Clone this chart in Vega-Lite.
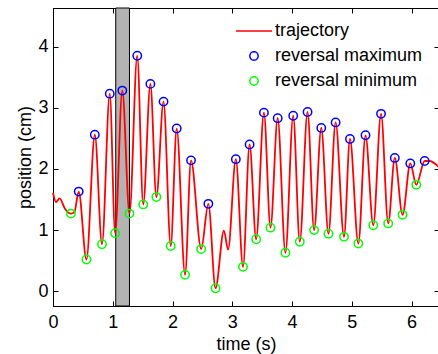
{
  "$schema": "https://vega.github.io/schema/vega-lite/v6.json",
  "width": 386,
  "height": 298,
  "autosize": {"type": "none"},
  "padding": {"left": 53, "top": 8, "right": 0, "bottom": 48},
  "background": "white",
  "config": {
    "view": {"stroke": "black", "strokeWidth": 1},
    "font": "Liberation Sans",
    "axis": {
      "grid": false,
      "domainColor": "black",
      "tickColor": "black",
      "labelColor": "black",
      "titleColor": "black",
      "labelFont": "Liberation Sans",
      "titleFont": "Liberation Sans",
      "labelFontSize": 18,
      "titleFontSize": 18,
      "titleFontWeight": "normal",
      "tickSize": -5,
      "tickWidth": 1,
      "domainWidth": 1,
      "labelFlush": false
    },
    "legend": {
      "labelFont": "Liberation Sans",
      "labelFontSize": 18,
      "labelColor": "black"
    }
  },
  "datasets": {
    "traj": [
      {"t": 0, "v": 1.61, "series": "trajectory"},
      {"t": 0.05, "v": 1.46, "series": "trajectory"},
      {"t": 0.11, "v": 1.52, "series": "trajectory"},
      {"t": 0.2, "v": 1.35, "series": "trajectory"},
      {"t": 0.3, "v": 1.27, "series": "trajectory"},
      {"t": 0.36, "v": 1.3, "series": "trajectory"},
      {"t": 0.43, "v": 1.63, "series": "trajectory"},
      {"t": 0.56, "v": 0.52, "series": "trajectory"},
      {"t": 0.7, "v": 2.56, "series": "trajectory"},
      {"t": 0.82, "v": 0.77, "series": "trajectory"},
      {"t": 0.95, "v": 3.23, "series": "trajectory"},
      {"t": 1.04, "v": 0.95, "series": "trajectory"},
      {"t": 1.16, "v": 3.28, "series": "trajectory"},
      {"t": 1.28, "v": 1.27, "series": "trajectory"},
      {"t": 1.41, "v": 3.85, "series": "trajectory"},
      {"t": 1.51, "v": 1.42, "series": "trajectory"},
      {"t": 1.63, "v": 3.39, "series": "trajectory"},
      {"t": 1.73, "v": 1.54, "series": "trajectory"},
      {"t": 1.85, "v": 3.1, "series": "trajectory"},
      {"t": 1.97, "v": 0.74, "series": "trajectory"},
      {"t": 2.07, "v": 2.66, "series": "trajectory"},
      {"t": 2.21, "v": 0.27, "series": "trajectory"},
      {"t": 2.31, "v": 2.14, "series": "trajectory"},
      {"t": 2.48, "v": 0.69, "series": "trajectory"},
      {"t": 2.6, "v": 1.43, "series": "trajectory"},
      {"t": 2.72, "v": 0.05, "series": "trajectory"},
      {"t": 2.86, "v": 0.99, "series": "trajectory"},
      {"t": 2.93, "v": 0.68, "series": "trajectory"},
      {"t": 3.06, "v": 2.16, "series": "trajectory"},
      {"t": 3.18, "v": 0.4, "series": "trajectory"},
      {"t": 3.29, "v": 2.4, "series": "trajectory"},
      {"t": 3.4, "v": 0.85, "series": "trajectory"},
      {"t": 3.53, "v": 2.92, "series": "trajectory"},
      {"t": 3.64, "v": 1.04, "series": "trajectory"},
      {"t": 3.76, "v": 2.83, "series": "trajectory"},
      {"t": 3.89, "v": 0.63, "series": "trajectory"},
      {"t": 4.02, "v": 2.87, "series": "trajectory"},
      {"t": 4.13, "v": 0.81, "series": "trajectory"},
      {"t": 4.26, "v": 2.93, "series": "trajectory"},
      {"t": 4.37, "v": 1.0, "series": "trajectory"},
      {"t": 4.49, "v": 2.67, "series": "trajectory"},
      {"t": 4.61, "v": 0.94, "series": "trajectory"},
      {"t": 4.73, "v": 2.76, "series": "trajectory"},
      {"t": 4.87, "v": 0.89, "series": "trajectory"},
      {"t": 4.97, "v": 2.49, "series": "trajectory"},
      {"t": 5.11, "v": 0.78, "series": "trajectory"},
      {"t": 5.23, "v": 2.55, "series": "trajectory"},
      {"t": 5.36, "v": 1.08, "series": "trajectory"},
      {"t": 5.49, "v": 2.9, "series": "trajectory"},
      {"t": 5.61, "v": 1.11, "series": "trajectory"},
      {"t": 5.72, "v": 2.18, "series": "trajectory"},
      {"t": 5.85, "v": 1.25, "series": "trajectory"},
      {"t": 5.98, "v": 2.09, "series": "trajectory"},
      {"t": 6.08, "v": 1.74, "series": "trajectory"},
      {"t": 6.22, "v": 2.13, "series": "trajectory"},
      {"t": 6.3, "v": 2.13, "series": "trajectory"},
      {"t": 6.46, "v": 2.03, "series": "trajectory"}
    ],
    "ext": [
      {"t": 0.43, "v": 1.63, "series": "reversal maximum"},
      {"t": 0.7, "v": 2.56, "series": "reversal maximum"},
      {"t": 0.95, "v": 3.23, "series": "reversal maximum"},
      {"t": 1.16, "v": 3.28, "series": "reversal maximum"},
      {"t": 1.41, "v": 3.85, "series": "reversal maximum"},
      {"t": 1.63, "v": 3.39, "series": "reversal maximum"},
      {"t": 1.85, "v": 3.1, "series": "reversal maximum"},
      {"t": 2.07, "v": 2.66, "series": "reversal maximum"},
      {"t": 2.31, "v": 2.14, "series": "reversal maximum"},
      {"t": 2.6, "v": 1.43, "series": "reversal maximum"},
      {"t": 3.06, "v": 2.16, "series": "reversal maximum"},
      {"t": 3.29, "v": 2.4, "series": "reversal maximum"},
      {"t": 3.53, "v": 2.92, "series": "reversal maximum"},
      {"t": 3.76, "v": 2.83, "series": "reversal maximum"},
      {"t": 4.02, "v": 2.87, "series": "reversal maximum"},
      {"t": 4.26, "v": 2.93, "series": "reversal maximum"},
      {"t": 4.49, "v": 2.67, "series": "reversal maximum"},
      {"t": 4.73, "v": 2.76, "series": "reversal maximum"},
      {"t": 4.97, "v": 2.49, "series": "reversal maximum"},
      {"t": 5.23, "v": 2.55, "series": "reversal maximum"},
      {"t": 5.49, "v": 2.9, "series": "reversal maximum"},
      {"t": 5.72, "v": 2.18, "series": "reversal maximum"},
      {"t": 5.98, "v": 2.09, "series": "reversal maximum"},
      {"t": 6.22, "v": 2.13, "series": "reversal maximum"},
      {"t": 0.3, "v": 1.27, "series": "reversal minimum"},
      {"t": 0.56, "v": 0.52, "series": "reversal minimum"},
      {"t": 0.82, "v": 0.77, "series": "reversal minimum"},
      {"t": 1.04, "v": 0.95, "series": "reversal minimum"},
      {"t": 1.28, "v": 1.27, "series": "reversal minimum"},
      {"t": 1.51, "v": 1.42, "series": "reversal minimum"},
      {"t": 1.73, "v": 1.54, "series": "reversal minimum"},
      {"t": 1.97, "v": 0.74, "series": "reversal minimum"},
      {"t": 2.21, "v": 0.27, "series": "reversal minimum"},
      {"t": 2.48, "v": 0.69, "series": "reversal minimum"},
      {"t": 2.72, "v": 0.05, "series": "reversal minimum"},
      {"t": 3.18, "v": 0.4, "series": "reversal minimum"},
      {"t": 3.4, "v": 0.85, "series": "reversal minimum"},
      {"t": 3.64, "v": 1.04, "series": "reversal minimum"},
      {"t": 3.89, "v": 0.63, "series": "reversal minimum"},
      {"t": 4.13, "v": 0.81, "series": "reversal minimum"},
      {"t": 4.37, "v": 1.0, "series": "reversal minimum"},
      {"t": 4.61, "v": 0.94, "series": "reversal minimum"},
      {"t": 4.87, "v": 0.89, "series": "reversal minimum"},
      {"t": 5.11, "v": 0.78, "series": "reversal minimum"},
      {"t": 5.36, "v": 1.08, "series": "reversal minimum"},
      {"t": 5.61, "v": 1.11, "series": "reversal minimum"},
      {"t": 5.85, "v": 1.25, "series": "reversal minimum"},
      {"t": 6.08, "v": 1.74, "series": "reversal minimum"}
    ],
    "band": [{"start": 1.05, "end": 1.28}]
  },
  "layer": [
    {
      "data": {"name": "band"},
      "mark": {"type": "rect", "fill": "#b3b3b3", "stroke": "black", "strokeWidth": 1},
      "encoding": {
        "x": {"field": "start", "type": "quantitative", "scale": {"domain": [0, 6.46], "nice": false, "zero": false}, "axis": null},
        "x2": {"field": "end"}
      }
    },
    {
      "data": {"name": "traj"},
      "mark": {"type": "line", "strokeWidth": 1.8, "interpolate": "monotone"},
      "encoding": {
        "x": {
          "field": "t", "type": "quantitative",
          "scale": {"domain": [0, 6.46], "nice": false, "zero": false},
          "axis": {"orient": "bottom", "title": "time (s)", "values": [0, 1, 2, 3, 4, 5, 6], "labelPadding": 12, "titlePadding": 4}
        },
        "y": {
          "field": "v", "type": "quantitative",
          "scale": {"domain": [-0.24, 4.63], "nice": false, "zero": false},
          "axis": {"orient": "left", "title": "position (cm)", "values": [0, 1, 2, 3, 4], "labelPadding": 10, "titlePadding": 3}
        },
        "color": {
          "field": "series", "type": "nominal",
          "scale": {"domain": ["trajectory", "reversal maximum", "reversal minimum"], "range": ["#ff0000", "#0000ff", "#00ff00"]},
          "legend": {"orient": "none", "legendX": 192, "legendY": 14, "title": null, "padding": 0, "symbolSize": 70, "symbolStrokeWidth": 1.5, "labelOffset": 12, "rowPadding": 7, "labelFontSize": 18}
        }
      }
    },
    {
      "data": {"name": "ext"},
      "mark": {"type": "point", "filled": false, "size": 70, "strokeWidth": 1.5, "opacity": 1},
      "encoding": {
        "x": {
          "field": "t", "type": "quantitative",
          "scale": {"domain": [0, 6.46], "nice": false, "zero": false},
          "axis": {"orient": "top", "title": null, "labels": false, "domain": false, "values": [0, 1, 2, 3, 4, 5, 6]}
        },
        "y": {
          "field": "v", "type": "quantitative",
          "scale": {"domain": [-0.24, 4.63], "nice": false, "zero": false},
          "axis": {"orient": "right", "title": null, "labels": false, "domain": false, "values": [0, 1, 2, 3, 4]}
        },
        "color": {"field": "series", "type": "nominal"},
        "shape": {
          "field": "series", "type": "nominal",
          "scale": {"domain": ["trajectory", "reversal maximum", "reversal minimum"], "range": ["M-4.3,0H4.3", "circle", "circle"]}
        }
      }
    }
  ],
  "resolve": {"axis": {"x": "independent", "y": "independent"}}
}
